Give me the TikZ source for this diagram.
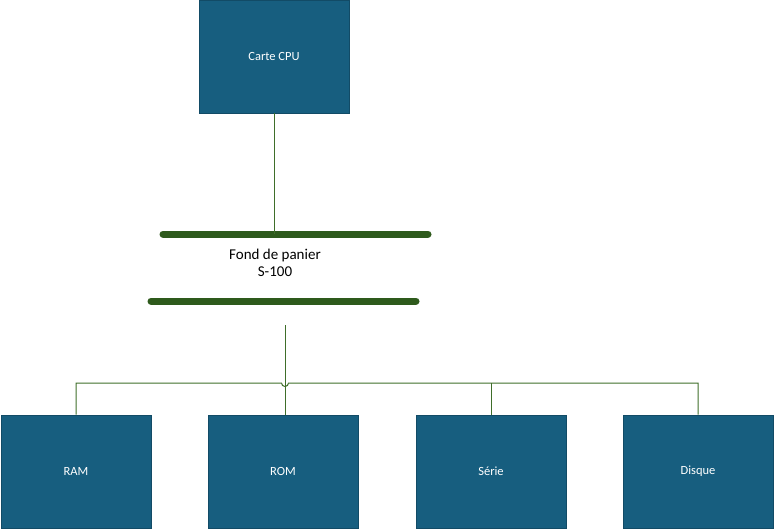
\documentclass[tikz,border=0pt]{standalone}
\usepackage{fontspec}
\setmainfont{Carlito}
\definecolor{boxblue}{HTML}{175E7F}
\definecolor{busgreen}{HTML}{2E5A1C}
\definecolor{linegreen}{HTML}{3F6E2A}
\begin{document}
\begin{tikzpicture}[x=1pt,y=-1pt,
  unit/.style={fill=boxblue,draw=boxblue!80!black,line width=0.6pt,minimum width=150pt,minimum height=113pt,inner sep=0pt,text=white,font=\fontsize{12.5}{14}\selectfont},
  bus/.style={busgreen,line width=7pt,line cap=round},
  wire/.style={linegreen,line width=1pt}]
\useasboundingbox (0,0) rectangle (776,530);
\node[unit] (cpu) at (274,56.5) {Carte CPU};
\node[unit] (ram) at (76,471.5) {RAM};
\node[unit] (rom) at (283,471.5) {ROM};
\node[unit] (serie) at (491,471.5) {Série};
\node[unit] (disque) at (698,471.5) {Disque};
\coordinate (b1l) at (163,234);
\coordinate (b1r) at (428,234);
\coordinate (b2l) at (151,301);
\coordinate (b2r) at (416,301);
\draw[bus] (b1l) -- (b1r);
\draw[bus] (b2l) -- (b2r);
\node[font=\fontsize{15}{17}\selectfont,align=center,inner sep=0pt] (label) at (275,263) {Fond de panier\\S-100};
\coordinate (cpubus) at (274,234);
\draw[wire] (cpu.south) -- (cpubus);
\coordinate (drop) at (285,325);
\coordinate (hopl) at (281.5,383);
\coordinate (hopr) at (288.5,383);
\draw[wire] (drop) -- (rom.north -| drop);
\draw[wire] (ram.north) |- (hopl) arc[start angle=180,end angle=0,radius=3.5] -- (hopl -| disque.north) -- (disque.north);
\draw[wire] (serie.north) -- (serie.north |- hopl);
\end{tikzpicture}
\end{document}
